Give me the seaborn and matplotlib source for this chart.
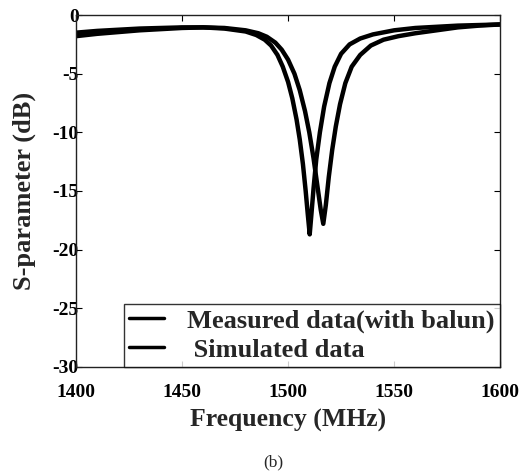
import numpy as np
import pandas as pd
import seaborn as sns
import matplotlib
matplotlib.use("Agg")
import matplotlib.pyplot as plt

# Measured data (with balun)
meas_freq = [1400, 1410, 1420, 1430, 1440, 1450, 1460, 1470, 1480, 1485, 1489, 1492,
             1495, 1497.5, 1500, 1502, 1504, 1505.5, 1507, 1508.3, 1509.3, 1510.2,
             1511, 1512, 1513.3, 1515, 1517, 1519.5, 1522, 1525, 1529, 1534, 1540,
             1550, 1560, 1570, 1580, 1590, 1600]
meas_db = [-1.8, -1.6, -1.45, -1.3, -1.2, -1.1, -1.05, -1.15, -1.4, -1.7, -2.1, -2.6,
           -3.4, -4.4, -5.7, -7.1, -8.9, -10.6, -12.7, -15.0, -17.0, -18.7,
           -17.0, -14.8, -12.3, -10.0, -7.8, -5.8, -4.4, -3.3, -2.5, -2.0, -1.65,
           -1.3, -1.1, -1.0, -0.9, -0.85, -0.8]

# Simulated data
sim_freq = [1400, 1410, 1420, 1430, 1440, 1450, 1460, 1470, 1480, 1486, 1490, 1494,
            1497, 1500, 1503, 1505.5, 1508, 1510, 1512, 1513.7, 1515.4, 1516.6,
            1517.8, 1519.2, 1520.8, 1522.5, 1524.5, 1527, 1530, 1534, 1539, 1545,
            1552, 1560, 1570, 1580, 1590, 1600]
sim_db = [-1.5, -1.35, -1.25, -1.15, -1.1, -1.05, -1.05, -1.1, -1.3, -1.55, -1.85, -2.35,
          -2.95, -3.8, -5.0, -6.4, -8.2, -10.0, -12.2, -14.4, -16.6, -17.8,
          -16.2, -13.8, -11.5, -9.5, -7.6, -5.8, -4.4, -3.4, -2.6, -2.1,
          -1.8, -1.55, -1.3, -1.05, -0.9, -0.8]

labels = ["Measured data(with balun)", " Simulated data"]
xticks = [1400, 1450, 1500, 1550, 1600]
yticks = [0, -5, -10, -15, -20, -25, -30]

df = pd.concat([
    pd.DataFrame({"freq": meas_freq, "db": meas_db, "series": labels[0]}),
    pd.DataFrame({"freq": sim_freq, "db": sim_db, "series": labels[1]}),
], ignore_index=True)

sns.set_theme(style="ticks")
plt.rcParams["font.family"] = ["Liberation Serif", "DejaVu Serif"]
plt.rcParams["font.weight"] = "bold"

fig = plt.figure(figsize=(5.31, 4.71), dpi=100)
ax = fig.add_axes([0.143, 0.221, 0.799, 0.747])

sns.lineplot(data=df, x="freq", y="db", hue="series", hue_order=labels,
             palette=["black", "black"], linewidth=3.2, sort=False,
             estimator=None, ax=ax)

ax.set_xlim(1400, 1600)
ax.set_ylim(-30, 0)
ax.set_xticks(xticks)
ax.set_yticks(yticks)
ax.set_xticklabels([str(t) for t in xticks], fontsize=14, fontweight="bold")
ax.set_yticklabels([str(t) for t in yticks], fontsize=14, fontweight="bold")
ax.tick_params(direction="in", length=4, width=0.8, top=True, right=True,
               colors="black")
ax.tick_params(axis="y", pad=-2)
ax.tick_params(axis="x", pad=12)
for s in ax.spines.values():
    s.set_visible(True)
    s.set_color("#222222")
    s.set_linewidth(1.0)

ax.set_xlabel("Frequency (MHz)", fontsize=18.5, fontweight="bold", labelpad=6)
ax.set_ylabel("S-parameter (dB)", fontsize=19, fontweight="bold", labelpad=12)

leg = ax.legend(loc="lower right", bbox_to_anchor=(1.0, 0.0), borderaxespad=0,
                frameon=True, fancybox=False, edgecolor="black",
                prop={"family": "Liberation Serif", "weight": "bold", "size": 19},
                handlelength=1.33, handletextpad=0.87, labelspacing=0.2,
                borderpad=0.2)
leg.get_frame().set_linewidth(1.0)
for line in leg.get_lines():
    line.set_linewidth(2.5)

fig.text(0.514, 0.019, "(b)", ha="center", va="center", fontsize=12.5,
         fontweight="normal", family="Liberation Serif")

fig.savefig("out.png", dpi=100, facecolor="white")
